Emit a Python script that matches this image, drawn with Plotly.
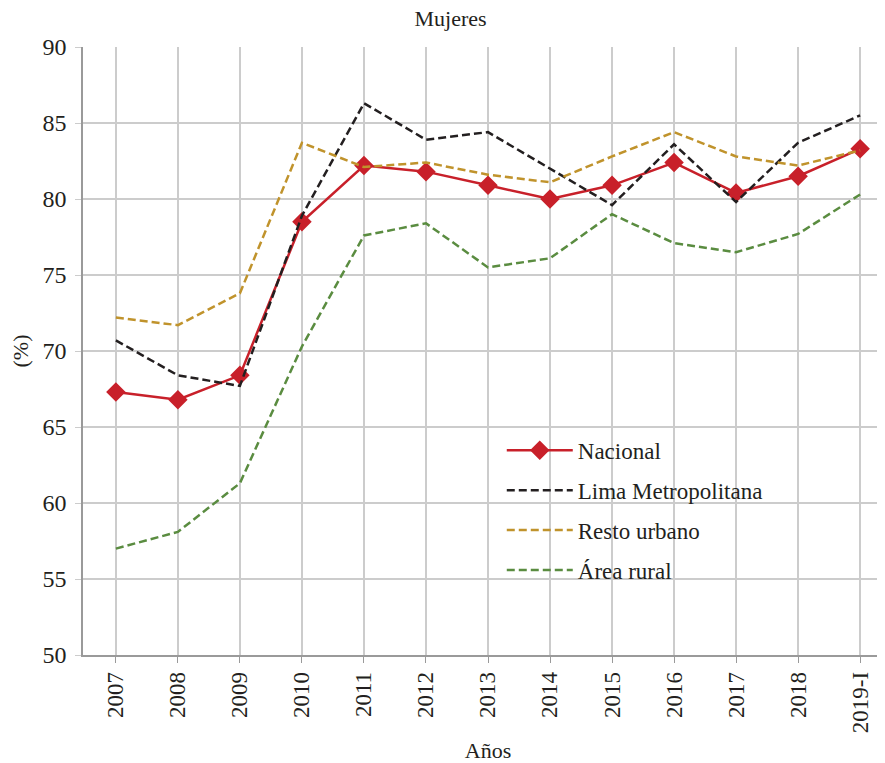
import plotly.graph_objects as go

anios = ["2007", "2008", "2009", "2010", "2011", "2012", "2013",
         "2014", "2015", "2016", "2017", "2018", "2019-I"]
nacional = [67.3, 66.8, 68.4, 78.5, 82.2, 81.8, 80.9, 80.0, 80.9, 82.4, 80.4, 81.5, 83.3]
lima = [70.7, 68.4, 67.7, 78.9, 86.3, 83.9, 84.4, 82.0, 79.6, 83.6, 79.8, 83.7, 85.5]
resto_urbano = [72.2, 71.7, 73.8, 83.7, 82.1, 82.4, 81.6, 81.1, 82.8, 84.4, 82.8, 82.2, 83.2]
area_rural = [57.0, 58.1, 61.3, 70.3, 77.6, 78.4, 75.5, 76.1, 79.0, 77.1, 76.5, 77.7, 80.3]

FONT = "Liberation Serif, DejaVu Serif, serif"
TXT = "#231f20"

fig = go.Figure()
fig.add_trace(go.Scatter(
    x=anios, y=nacional, name="Nacional", mode="lines+markers",
    line=dict(color="#c8202a", width=2.5),
    marker=dict(symbol="diamond", size=15, color="#c8202a"),
    legendgroup="a",
))
fig.add_trace(go.Scatter(
    x=anios, y=lima, name="Lima Metropolitana", mode="lines",
    line=dict(color="#231f20", width=2.5, dash="8px,4px"),
    legendgroup="b",
))
fig.add_trace(go.Scatter(
    x=anios, y=resto_urbano, name="Resto urbano", mode="lines",
    line=dict(color="#c0932c", width=2.5, dash="8px,4px"),
    legendgroup="c",
))
fig.add_trace(go.Scatter(
    x=anios, y=area_rural, name="Área rural", mode="lines",
    line=dict(color="#5a8c40", width=2.5, dash="8px,4px"),
    legendgroup="d",
))

# the page body adds an 8px margin, so margins are set 8px smaller
fig.update_layout(
    width=885, height=763,
    paper_bgcolor="white", plot_bgcolor="white",
    margin=dict(l=75, r=0, t=39, b=116, autoexpand=False),
    font=dict(family=FONT, size=23, color=TXT),
    title=dict(text="Mujeres", x=0.5, xanchor="center", y=1, yanchor="top",
               pad=dict(t=3), font=dict(size=22, family=FONT, color=TXT)),
    legend=dict(x=0.517, y=0.372, xanchor="left", yanchor="top",
                bgcolor="rgba(0,0,0,0)", font=dict(size=23, family=FONT, color=TXT),
                itemwidth=66, tracegroupgap=7),
    showlegend=True,
)
fig.update_xaxes(
    type="category", range=[-0.53, 12.53], automargin=False,
    tickangle=-90, showgrid=True, gridcolor="#cccccc", gridwidth=1.5,
    showline=True, linecolor="#9a9a9a", linewidth=1.5,
    ticks="outside", ticklen=6, tickcolor="#9a9a9a",
    title=dict(text="Años", font=dict(size=22, family=FONT, color=TXT), standoff=10),
    tickfont=dict(size=23, family=FONT, color=TXT),
)
fig.update_yaxes(
    range=[50, 90], dtick=5, automargin=False,
    showgrid=True, gridcolor="#cccccc", gridwidth=1.5,
    showline=True, linecolor="#9a9a9a", linewidth=1.5,
    ticks="outside", ticklen=6, tickcolor="#cccccc", ticklabelstandoff=4,
    title=dict(text="(%)", font=dict(size=22, family=FONT, color=TXT), standoff=12),
    tickfont=dict(size=24, family=FONT, color=TXT),
    zeroline=False,
)

fig.write_html("out.html")
